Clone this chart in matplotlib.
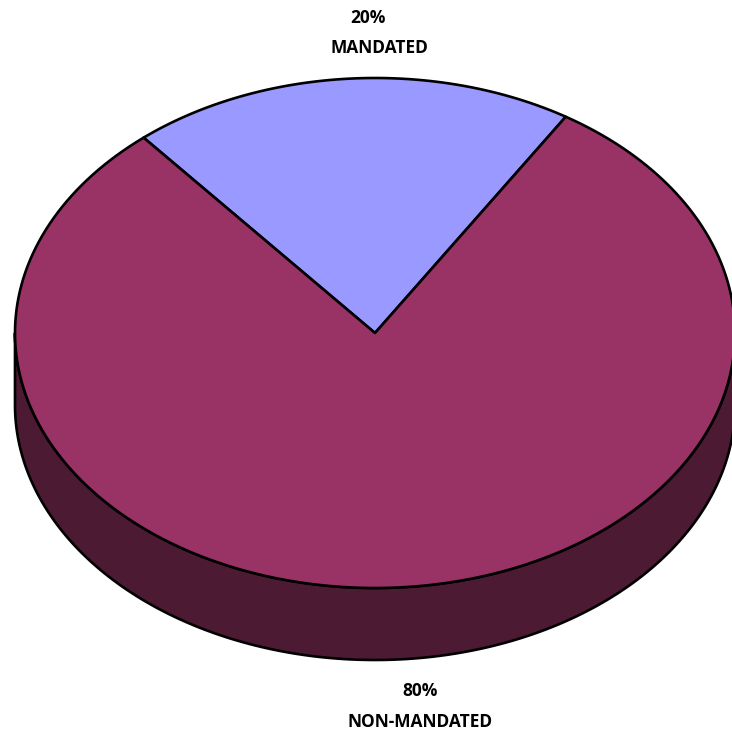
import numpy as np
import matplotlib
matplotlib.use("Agg")
import matplotlib.pyplot as plt
from matplotlib.patches import Polygon

# Share of items by category
categories = ["MANDATED", "NON-MANDATED"]
shares = [20, 80]
top_colors = ["#9999FF", "#993366"]
side_colors = ["#4A1A38", "#4D1A33"]

# Pie geometry (pixel space of the canvas)
cx, cy = 375.0, 333.0
rx, ry = 360.0, 255.0
depth = 72.0
start_deg = 58.0

W, H = 732, 734
fig = plt.figure(figsize=(W / 100, H / 100), dpi=100)
ax = fig.add_axes([0, 0, 1, 1])
ax.set_xlim(0, W)
ax.set_ylim(H, 0)
ax.axis("off")

edge_kw = dict(edgecolor="black", linewidth=1.9, joinstyle="round")


def rim(t0, t1, dy=0.0, n=200):
    t = np.radians(np.linspace(t0, t1, n))
    return np.column_stack([cx + rx * np.cos(t), cy + dy - ry * np.sin(t)])


total = float(sum(shares))
spans = []
a = start_deg
for v in shares:
    span = 360.0 * v / total
    spans.append((a, a + span))
    a += span

# Side walls: only the front half (180..360 deg, and its next turn) is visible
for (t0, t1), col in zip(spans, side_colors):
    for base in (0, 360):
        a0 = max(t0, 180 + base)
        a1 = min(t1, 360 + base)
        if a1 > a0:
            top = rim(a0, a1)
            bot = rim(a1, a0, dy=depth)
            ax.add_patch(Polygon(np.vstack([top, bot]), closed=True,
                                 facecolor=col, **edge_kw))

# Top faces
for (t0, t1), col in zip(spans, top_colors):
    pts = np.vstack([[cx, cy], rim(t0, t1)])
    ax.add_patch(Polygon(pts, closed=True, facecolor=col, **edge_kw))

# Labels
font = dict(family="Open Sans", fontweight="bold", fontsize=12.5,
            color="black", ha="center", va="center")
ax.text(368, 18, f"{shares[0]}%", **font)
ax.text(379, 48, categories[0], **font)
ax.text(420, 691, f"{shares[1]}%", **font)
ax.text(420, 722, categories[1], **font)

fig.savefig("out.png", dpi=100)
